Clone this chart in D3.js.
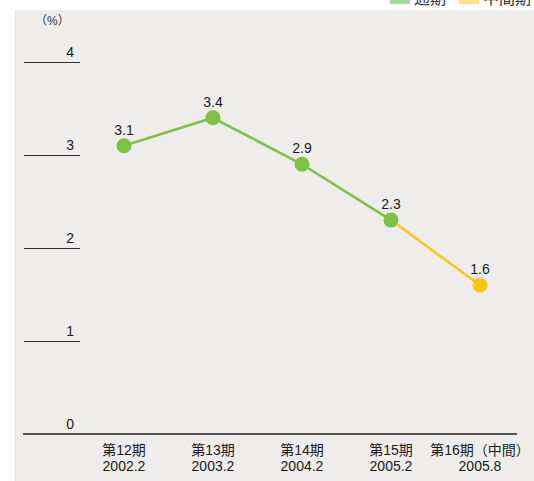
<!DOCTYPE html>
<html><head><meta charset="utf-8">
<script src="https://cdn.jsdelivr.net/npm/d3@7"></script>
<style>body{margin:0;background:#fff}svg{display:block;font-family:"Liberation Sans","Noto Sans CJK JP",sans-serif}</style>
</head><body>
<script>
const categories = ["第12期", "第13期", "第14期", "第15期", "第16期（中間）"];
const dates = ["2002.2", "2003.2", "2004.2", "2005.2", "2005.8"];
const values = [3.1, 3.4, 2.9, 2.3, 1.6];
const periodType = ["通期", "通期", "通期", "通期", "中間期"];
const yTicks = [0, 1, 2, 3, 4];
const legendItems = ["通期", "中間期"];

const W = 534, H = 481;
const green = "#7dc242", yellow = "#fcc515";
const svg = d3.select("body").append("svg").attr("width", W).attr("height", H);

// panel
svg.append("rect").attr("x", 15).attr("y", 10).attr("width", W - 15).attr("height", H - 10).attr("fill", "#eeedeb");
svg.append("line").attr("x1", 15.5).attr("x2", 15.5).attr("y1", 10).attr("y2", H).attr("stroke", "#e2e1df");

// legend (cut at top, as in the reference)
const legColors = ["#a9d8a6", "#fde08e"];
const legX = [390, 459];
legendItems.forEach((t, i) => {
  svg.append("rect").attr("x", legX[i]).attr("y", -6).attr("width", 20).attr("height", 10).attr("fill", legColors[i]);
  svg.append("text").attr("x", legX[i] + 24).attr("y", 4).attr("font-size", 16).attr("fill", "#333").text(t);
});

const x = d3.scalePoint().domain(categories).range([124, 480]);
const y = d3.scaleLinear().domain([0, 4]).range([434, 62]);

// y tick lines and labels
yTicks.filter(d => d > 0).forEach(d => {
  svg.append("line").attr("x1", 24).attr("x2", 80).attr("y1", y(d) + 0.5).attr("y2", y(d) + 0.5).attr("stroke", "#333").attr("stroke-width", 1.2);
});
yTicks.forEach(d => {
  svg.append("text").attr("x", 74).attr("y", y(d) - 5).attr("text-anchor", "end").attr("font-size", 14).attr("fill", "#1a1a1a").text(d);
});
svg.append("text").attr("x", 35).attr("y", 25).attr("font-size", 12).attr("fill", "#333").text("（%）");

// baseline
svg.append("line").attr("x1", 23).attr("x2", 517).attr("y1", y(0)).attr("y2", y(0)).attr("stroke", "#555").attr("stroke-width", 2);

// x labels
categories.forEach((c, i) => {
  svg.append("text").attr("x", x(c)).attr("y", 455).attr("text-anchor", "middle").attr("font-size", 14).attr("fill", "#1a1a1a").text(c);
  svg.append("text").attr("x", x(c)).attr("y", 471).attr("text-anchor", "middle").attr("font-size", 14).attr("fill", "#1a1a1a").text(dates[i]);
});

// line segments
for (let i = 0; i < values.length - 1; i++) {
  const col = periodType[i + 1] === "中間期" ? yellow : green;
  svg.append("line")
    .attr("x1", x(categories[i])).attr("y1", y(values[i]))
    .attr("x2", x(categories[i + 1])).attr("y2", y(values[i + 1]))
    .attr("stroke", col).attr("stroke-width", 2.5);
}
// points
values.forEach((v, i) => {
  svg.append("circle").attr("cx", x(categories[i])).attr("cy", y(v)).attr("r", 7.5)
    .attr("fill", periodType[i] === "中間期" ? yellow : green);
  svg.append("text").attr("x", x(categories[i])).attr("y", y(v) - 11).attr("text-anchor", "middle")
    .attr("font-size", 14).attr("fill", "#1a1a1a").text(v.toFixed(1));
});
</script>
</body></html>
